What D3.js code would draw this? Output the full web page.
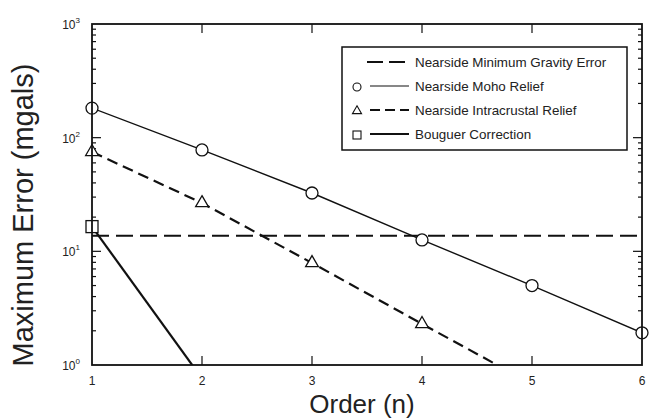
<!DOCTYPE html>
<html>
<head>
<meta charset="utf-8">
<script src="https://cdn.jsdelivr.net/npm/d3@7"></script>
<style>
  body { margin: 0; background: #fff; }
  svg { display: block; font-family: "Liberation Sans", Arial, sans-serif; }
</style>
</head>
<body>
<svg id="chart" width="655" height="418"></svg>
<script>
// values
const orders = [1, 2, 3, 4, 5, 6];
const minGravityError = [13.7, 13.7, 13.7, 13.7, 13.7, 13.7];
const mohoRelief = [182, 78, 32.6, 12.6, 5.0, 1.92];
const intraOrders = [1, 2, 3, 4, 5];
const intraRelief = [75, 26.6, 7.9, 2.3, 0.68];
const bouguerOrders = [1, 2];
const bouguerCorrection = [16.5, 0.76];
const xTickLabels = ['1', '2', '3', '4', '5', '6'];
const yDecades = [0, 1, 2, 3];
const legendLabels = [
  'Nearside Minimum Gravity Error',
  'Nearside Moho Relief',
  'Nearside Intracrustal Relief',
  'Bouguer Correction'
];

const margin = { top: 24, right: 13, bottom: 53, left: 92 };
const width = 655, height = 418;
const svg = d3.select('#chart');

const x = d3.scaleLinear().domain([1, 6]).range([margin.left, width - margin.right]);
const y = d3.scaleLog().domain([1, 1000]).range([height - margin.bottom, margin.top]);

svg.append('clipPath').attr('id', 'plot')
  .append('rect')
  .attr('x', margin.left).attr('y', margin.top)
  .attr('width', x(6) - x(1)).attr('height', y(1) - y(1000));

// minor ticks for the log axis
const minorVals = [];
[1, 10, 100].forEach(d => { for (let k = 2; k <= 9; k++) minorVals.push(d * k); });
const majorVals = [10, 100];

const tickG = svg.append('g').attr('stroke', '#111').attr('stroke-width', 1.2);
[margin.left, width - margin.right].forEach((px, i) => {
  const dir = i === 0 ? 1 : -1;
  minorVals.forEach(v => tickG.append('line')
    .attr('x1', px).attr('x2', px + dir * 4).attr('y1', y(v)).attr('y2', y(v)));
  majorVals.forEach(v => tickG.append('line')
    .attr('x1', px).attr('x2', px + dir * 9).attr('y1', y(v)).attr('y2', y(v)));
});
[2, 3, 4, 5].forEach(o => {
  tickG.append('line').attr('x1', x(o)).attr('x2', x(o)).attr('y1', y(1)).attr('y2', y(1) - 9);
  tickG.append('line').attr('x1', x(o)).attr('x2', x(o)).attr('y1', y(1000)).attr('y2', y(1000) + 9);
});

// y tick labels 10^n
yDecades.forEach(p => {
  const t = svg.append('text')
    .attr('x', margin.left - 12).attr('y', y(Math.pow(10, p)) + 5)
    .attr('text-anchor', 'end').attr('font-size', 12).attr('fill', '#222');
  t.append('tspan').text('10');
  t.append('tspan').attr('dy', -6).attr('font-size', 8).text(p);
});

// x tick labels
xTickLabels.forEach((lab, i) => {
  svg.append('text')
    .attr('x', x(orders[i])).attr('y', y(1) + 20)
    .attr('text-anchor', 'middle').attr('font-size', 12).attr('fill', '#222')
    .text(lab);
});

// axis titles
svg.append('text')
  .attr('transform', 'translate(33,215) rotate(-90)')
  .attr('text-anchor', 'middle').attr('font-size', 29).attr('fill', '#222')
  .text('Maximum Error (mgals)');
svg.append('text')
  .attr('x', 362).attr('y', 413)
  .attr('text-anchor', 'middle').attr('font-size', 26).attr('fill', '#222')
  .text('Order (n)');

// series
const lineGen = d3.line().x(d => x(d[0])).y(d => y(d[1]));
const lines = svg.append('g').attr('clip-path', 'url(#plot)').attr('fill', 'none').attr('stroke', '#111');

lines.append('path')
  .attr('d', lineGen(d3.zip(orders, minGravityError)))
  .attr('stroke-width', 2).attr('stroke-dasharray', '17,7');
lines.append('path')
  .attr('d', lineGen(d3.zip(orders, mohoRelief)))
  .attr('stroke-width', 1.4);
lines.append('path')
  .attr('d', lineGen(d3.zip(intraOrders, intraRelief)))
  .attr('stroke-width', 2.2).attr('stroke-dasharray', '11,6');
lines.append('path')
  .attr('d', lineGen(d3.zip(bouguerOrders, bouguerCorrection)))
  .attr('stroke-width', 2.2);

const inDomain = d => d[1] >= 1 && d[1] <= 1000;
const marks = svg.append('g').attr('fill', '#fff').attr('stroke', '#111').attr('stroke-width', 1.3);

marks.selectAll('.moho').data(d3.zip(orders, mohoRelief).filter(inDomain)).enter()
  .append('circle').attr('cx', d => x(d[0])).attr('cy', d => y(d[1])).attr('r', 6);
marks.selectAll('.intra').data(d3.zip(intraOrders, intraRelief).filter(inDomain)).enter()
  .append('path')
  .attr('transform', d => `translate(${x(d[0])},${y(d[1])})`)
  .attr('d', d3.symbol(d3.symbolTriangle, 70));
marks.selectAll('.boug').data(d3.zip(bouguerOrders, bouguerCorrection).filter(inDomain)).enter()
  .append('rect')
  .attr('x', d => x(d[0]) - 6).attr('y', d => y(d[1]) - 6)
  .attr('width', 12).attr('height', 12);

// frame
svg.append('rect')
  .attr('x', margin.left).attr('y', margin.top)
  .attr('width', x(6) - x(1)).attr('height', y(1) - y(1000))
  .attr('fill', 'none').attr('stroke', '#111').attr('stroke-width', 1.8);

// legend
const leg = svg.append('g');
leg.append('rect')
  .attr('x', 342).attr('y', 47).attr('width', 285).attr('height', 103)
  .attr('fill', '#fff').attr('stroke', '#111').attr('stroke-width', 1.5);
const legendStyles = [
  { dash: '16,6', w: 2, sym: null },
  { dash: null, w: 1.2, sym: 'circle' },
  { dash: '10,5', w: 2.2, sym: 'triangle' },
  { dash: null, w: 2, sym: 'square' }
];
legendLabels.forEach((lab, i) => {
  const ly = 62 + i * 24;
  const st = legendStyles[i];
  const row = leg.append('g');
  row.append('line')
    .attr('x1', i === 0 ? 367 : 370).attr('x2', 409).attr('y1', ly).attr('y2', ly)
    .attr('stroke', '#111').attr('stroke-width', st.w)
    .attr('stroke-dasharray', st.dash);
  const s = row.append('g').attr('fill', '#fff').attr('stroke', '#111').attr('stroke-width', 1.1);
  if (st.sym === 'circle') s.append('circle').attr('cx', 357).attr('cy', ly + 1).attr('r', 4);
  if (st.sym === 'triangle') s.append('path')
    .attr('transform', `translate(357,${ly + 1})`).attr('d', d3.symbol(d3.symbolTriangle, 36));
  if (st.sym === 'square') s.append('rect').attr('x', 353).attr('y', ly - 3).attr('width', 8).attr('height', 8);
  row.append('text')
    .attr('x', 415).attr('y', ly + 5)
    .attr('font-size', 13.4).attr('fill', '#222')
    .text(lab);
});
</script>
</body>
</html>
